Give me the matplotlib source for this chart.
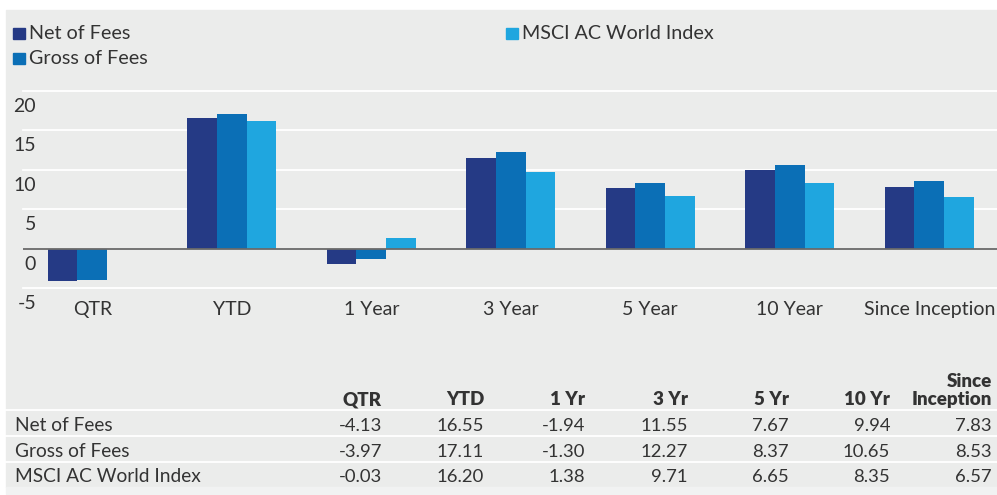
import matplotlib
matplotlib.use("Agg")
import matplotlib.pyplot as plt
import matplotlib.transforms as mtransforms
from matplotlib.patches import Rectangle
import numpy as np

categories = ["QTR", "YTD", "1 Year", "3 Year", "5 Year", "10 Year", "Since Inception"]
table_headers = ["QTR", "YTD", "1 Yr", "3 Yr", "5 Yr", "10 Yr", "Since\nInception"]
series_names = ["Net of Fees", "Gross of Fees", "MSCI AC World Index"]
net_of_fees = [-4.13, 16.55, -1.94, 11.55, 7.67, 9.94, 7.83]
gross_of_fees = [-3.97, 17.11, -1.30, 12.27, 8.37, 10.65, 8.53]
msci_acwi = [-0.03, 16.20, 1.38, 9.71, 6.65, 8.35, 6.57]
yticks = [-5, 0, 5, 10, 15, 20]

colors = ["#253a85", "#0b6fb6", "#1fa6df"]
BG = "#ebeceb"
TXT = "#333333"
FONT = "Lato"

W, H = 997, 495
fig = plt.figure(figsize=(W / 100, H / 100), dpi=100)
fig.patch.set_facecolor("white")
plt.rcParams["font.family"] = [FONT, "DejaVu Sans"]


def fx(px):
    return px / W


def fy(py):
    return 1 - py / H


# background panels (behind the axes)
fig.patches.append(Rectangle((fx(6), fy(487)), fx(991), (487 - 10) / H,
                             transform=fig.transFigure, color=BG, zorder=-10))
fig.patches.append(Rectangle((fx(6), fy(494)), fx(991), 7 / H,
                             transform=fig.transFigure, color="#f1f2f2", zorder=-10))

ax = fig.add_axes([fx(22.5), fy(288), 7 * 139.5 / W, (288 - 91) / H])
ax.set_facecolor("none")
ax.set_xlim(-0.5, 6.5)
ax.set_ylim(-5, 20)

x = np.arange(len(categories))
w = 0.212
for i, (vals, c) in enumerate(zip([net_of_fees, gross_of_fees, msci_acwi], colors)):
    ax.bar(x + (i - 1) * w, vals, width=w, color=c, zorder=2)

for t in yticks:
    if t == 0:
        ax.axhline(0, color="#6a6a6a", lw=1.3, zorder=3)
    else:
        ax.axhline(t, color="white", lw=1.3, zorder=1, clip_on=False)

for s in ax.spines.values():
    s.set_visible(False)
ax.set_xticks([])
ax.set_yticks([])

# y labels sit below their gridlines
ytrans = mtransforms.blended_transform_factory(fig.transFigure, ax.transData)
ytrans = mtransforms.offset_copy(ytrans, fig=fig, y=-21, units="dots")
for t in yticks:
    ax.text(fx(36), t, str(t), transform=ytrans, ha="right", va="baseline",
            fontsize=14, color=TXT, clip_on=False)

# category labels
xtrans = mtransforms.blended_transform_factory(ax.transData, fig.transFigure)
for xi, cat in zip(x, categories):
    ax.text(xi, fy(315), cat, transform=xtrans, ha="center", va="baseline",
            fontsize=14, color=TXT, clip_on=False)

# legend
legend_pos = [(13, 39), (13, 64), (506, 39)]
for (lx, ly), name, c in zip(legend_pos, series_names, colors):
    fig.patches.append(Rectangle((fx(lx), fy(ly)), fx(12), 11 / H,
                                 transform=fig.transFigure, color=c, zorder=2))
    fig.text(fx(lx + 16), fy(ly), name, ha="left", va="baseline",
             fontsize=14.2, color=TXT)

# table
col_right = [382, 484, 585, 688, 789, 890, 992]
for xr, hdr in zip(col_right, table_headers):
    fig.text(fx(xr), fy(405), hdr, ha="right", va="baseline", fontsize=13.5,
             fontweight="heavy", color=TXT, linespacing=1.05)

row_base = [431, 457, 482]
for yb, name, vals in zip(row_base, series_names,
                          [net_of_fees, gross_of_fees, msci_acwi]):
    fig.text(fx(15), fy(yb), name, ha="left", va="baseline", fontsize=13.8, color=TXT)
    for xr, v in zip(col_right, vals):
        fig.text(fx(xr), fy(yb), f"{v:.2f}", ha="right", va="baseline",
                 fontsize=13.3, color=TXT)

for yl in [410, 436, 462]:
    fig.add_artist(plt.Line2D([fx(6), 1], [fy(yl), fy(yl)], color="white",
                              lw=1.3, transform=fig.transFigure, zorder=1))

fig.savefig("out.png", dpi=100)
